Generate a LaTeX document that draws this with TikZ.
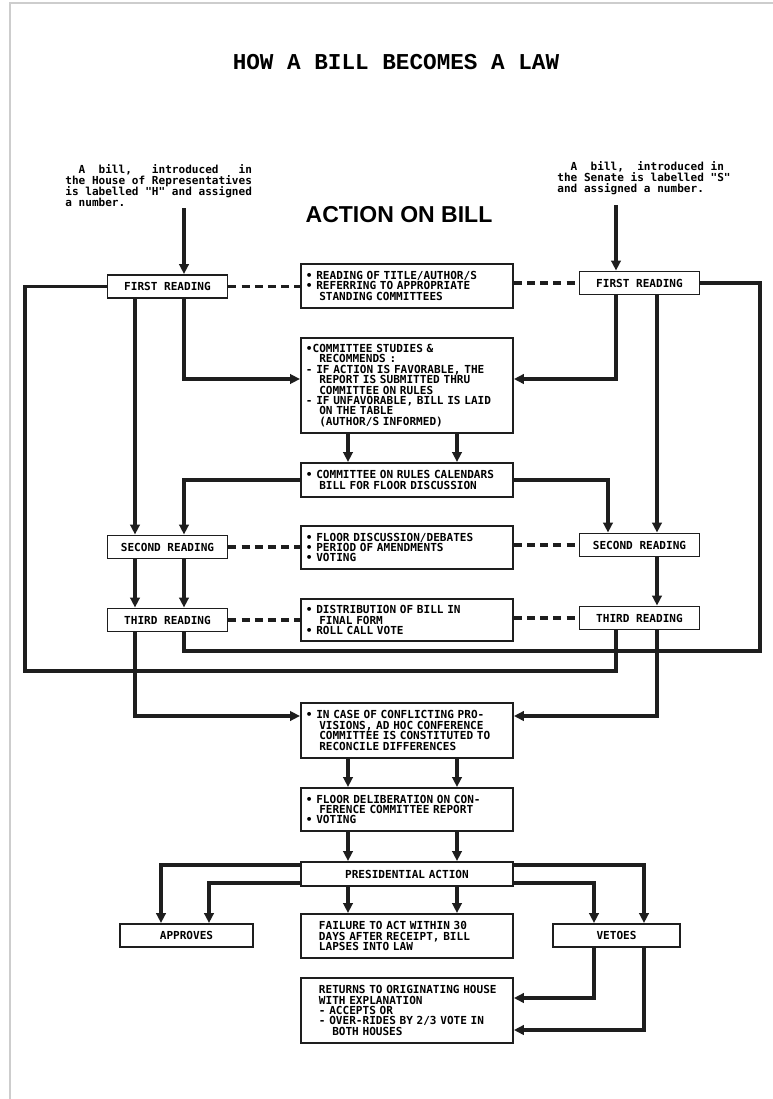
\documentclass[tikz,border=0pt]{standalone}
\usepackage{fontspec}
\setmonofont{Liberation Mono}
\setsansfont{Liberation Sans}
\newfontfamily\dotfont{DejaVu Sans Mono}
\usetikzlibrary{arrows.meta,positioning}
\definecolor{InkDark}{RGB}{30,30,30}
\definecolor{PageEdge}{RGB}{205,205,205}
\newcommand\padtwo{\hspace*{1.2em}}
\setlength{\lineskiplimit}{-10pt}

\begin{document}
\begin{tikzpicture}[x=0.02cm,y=-0.02cm,
 actbox/.style={draw=InkDark,line width=1.1pt,anchor=north west,text width=4.04cm,
 minimum width=4.24cm,inner xsep=0.1cm,inner ysep=0.05cm,align=left,
 font=\dotfont\bfseries\fontsize{6.3}{5.9}\selectfont},
 readbox/.style={draw=InkDark,line width=1.1pt,minimum width=2.4cm,minimum height=0.46cm,
 inner sep=0pt,font=\dotfont\bfseries\fontsize{6.3}{7}\selectfont},
 intro/.style={inner sep=0pt,anchor=north west,align=left,
 font=\dotfont\bfseries\fontsize{6.3}{6.2}\selectfont},
 flow/.style={-{Triangle[length=2mm,width=1.9mm]},line width=2pt,draw=InkDark},
 link/.style={line width=2pt,draw=InkDark},
 dashlink/.style={line width=2pt,draw=InkDark,dash pattern=on 4.5pt off 3pt}]
\useasboundingbox (0,0) rectangle (773,1099);
\draw[PageEdge,line width=0.8pt] (10,1099) -- (10,3) -- (773,3);

% headings
\node[font=\ttfamily\bfseries\fontsize{12.9}{14}\selectfont] (title) at (396,62) {HOW A BILL BECOMES A LAW};
\node[font=\sffamily\bfseries\fontsize{13.1}{15}\selectfont] (action) at (399,215) {ACTION ON BILL};
\node[intro] (lintro) at (65,164) {\ \ A\ \ bill,\ \ \ introduced\ \ \ in\\the House of Representatives\\is labelled "H" and assigned\\a number.};
\node[intro] (rintro) at (557,161) {\ \ A\ \ bill,\ \ introduced in\\the Senate is labelled "S"\\and assigned a number.};

% the two houses
\node[readbox] (lfr) at (167.5,286.5) {FIRST READING};
\node[readbox] (lsr) at (167.5,547) {SECOND READING};
\node[readbox] (ltr) at (167.5,620) {THIRD READING};
\node[readbox] (rfr) at (639.5,283) {FIRST READING};
\node[readbox] (rsr) at (639.5,545) {SECOND READING};
\node[readbox] (rtr) at (639.5,618) {THIRD READING};

% action column
\node[actbox,minimum height=0.88cm] (act1) at (300,263) {\textbullet\ READING OF TITLE/AUTHOR/S\\\textbullet\ REFERRING TO APPROPRIATE\\\padtwo STANDING COMMITTEES};
\node[actbox,minimum height=1.9cm] (act2) at (300,337) {\textbullet COMMITTEE STUDIES \&\\\padtwo RECOMMENDS :\\- IF ACTION IS FAVORABLE, THE\\\padtwo REPORT IS SUBMITTED THRU\\\padtwo COMMITTEE ON RULES\\- IF UNFAVORABLE, BILL IS LAID\\\padtwo ON THE TABLE\\\padtwo (AUTHOR/S INFORMED)};
\node[actbox,minimum height=0.68cm] (act3) at (300,462) {\textbullet\ COMMITTEE ON RULES CALENDARS\\\padtwo BILL FOR FLOOR DISCUSSION};
\node[actbox,minimum height=0.86cm] (act4) at (300,525) {\textbullet\ FLOOR DISCUSSION/DEBATES\\\textbullet\ PERIOD OF AMENDMENTS\\\textbullet\ VOTING};
\node[actbox,minimum height=0.84cm] (act5) at (300,598) {\textbullet\ DISTRIBUTION OF BILL IN\\\padtwo FINAL FORM\\\textbullet\ ROLL CALL VOTE};
\node[actbox,minimum height=1.1cm] (act6) at (300,702) {\textbullet\ IN CASE OF CONFLICTING PRO-\\\padtwo VISIONS, AD HOC CONFERENCE\\\padtwo COMMITTEE IS CONSTITUTED TO\\\padtwo RECONCILE DIFFERENCES};
\node[actbox,minimum height=0.86cm] (act7) at (300,787) {\textbullet\ FLOOR DELIBERATION ON CON-\\\padtwo FERENCE COMMITTEE REPORT\\\textbullet\ VOTING};
\node[actbox,align=center,minimum height=0.48cm] (pres) at (300,861) {PRESIDENTIAL ACTION};
\node[actbox,minimum height=0.88cm] (fail) at (300,913) {\leftskip=0.26cm FAILURE TO ACT WITHIN 30\\DAYS AFTER RECEIPT, BILL\\LAPSES INTO LAW\par};
\node[actbox,minimum height=1.3cm] (ret) at (300,977) {\leftskip=0.26cm RETURNS TO ORIGINATING HOUSE\\WITH EXPLANATION\\- ACCEPTS OR\\- OVER-RIDES BY 2/3 VOTE IN\\\padtwo BOTH HOUSES\par};
\node[readbox,minimum width=2.66cm] (apr) at (186.5,935.5) {APPROVES};
\node[readbox,minimum width=2.54cm] (veto) at (616.5,935.5) {VETOES};

% lanes
\coordinate (xa) at (25,0);
\coordinate (xb) at (135,0);
\coordinate (xc) at (184,0);
\coordinate (xm1) at (348,0);
\coordinate (xm2) at (457,0);
\coordinate (xd) at (608,0);
\coordinate (xe) at (616,0);
\coordinate (xf) at (657,0);
\coordinate (xg) at (760,0);
\coordinate (xp1) at (161,0);
\coordinate (xp2) at (209,0);
\coordinate (xv1) at (594,0);
\coordinate (xv2) at (644,0);
\coordinate (ycom) at (0,379);
\coordinate (yloopa) at (0,651);
\coordinate (yloopb) at (0,671);
\coordinate (yconf) at (0,716);
\coordinate (yret1) at (0,998);
\coordinate (yret2) at (0,1030);
\coordinate (lstart) at (0,208);
\coordinate (rstart) at (0,205);

% house side
\draw[flow] (lstart -| xc) -- (lfr.north -| xc);
\draw[flow] (lfr.south -| xb) -- (lsr.north -| xb);
\draw[flow] (lfr.south -| xc) |- (act2.west |- ycom);
\draw[flow] (act3.west) -| (lsr.north -| xc);
\draw[flow] (lsr.south -| xb) -- (ltr.north -| xb);
\draw[flow] (lsr.south -| xc) -- (ltr.north -| xc);
\draw[flow] (ltr.south -| xb) |- (act6.west |- yconf);

% senate side
\draw[flow] (rstart -| xe) -- (rfr.north -| xe);
\draw[flow] (rfr.south -| xe) |- (act2.east |- ycom);
\draw[flow] (rfr.south -| xf) -- (rsr.north -| xf);
\draw[flow] (act3.east) -| (rsr.north -| xd);
\draw[flow] (rsr.south -| xf) -- (rtr.north -| xf);
\draw[flow] (rtr.south -| xf) |- (act6.east |- yconf);

% passing to the other house
\draw[link] (ltr.south -| xc) |- (xg |- yloopa) |- (rfr.east);
\draw[link] (rtr.south -| xe) |- (xa |- yloopb) |- (lfr.west);

% readings to action
\draw[dashlink] (lfr.east) -- (lfr.east -| act1.west);
\draw[dashlink] (act1.east |- rfr.east) -- (rfr.west);
\draw[dashlink] (lsr.east) -- (lsr.east -| act4.west);
\draw[dashlink] (act4.east |- rsr.east) -- (rsr.west);
\draw[dashlink] (ltr.east) -- (ltr.east -| act5.west);
\draw[dashlink] (act5.east |- rtr.east) -- (rtr.west);

\foreach \a/\b in {act2/act3,act6/act7,act7/pres,pres/fail}
 \foreach \l in {xm1,xm2}
 \draw[flow] (\a.south -| \l) -- (\b.north -| \l);

% president
\draw[flow] ([yshift=-0.08cm]pres.north west) -| (apr.north -| xp1);
\draw[flow] ([yshift=0.08cm]pres.south west) -| (apr.north -| xp2);
\draw[flow] ([yshift=-0.08cm]pres.north east) -| (veto.north -| xv2);
\draw[flow] ([yshift=0.08cm]pres.south east) -| (veto.north -| xv1);
\draw[flow] (veto.south -| xv1) |- (ret.east |- yret1);
\draw[flow] (veto.south -| xv2) |- (ret.east |- yret2);
\end{tikzpicture}
\end{document}
